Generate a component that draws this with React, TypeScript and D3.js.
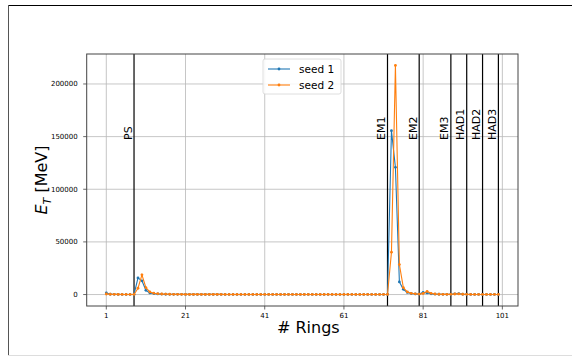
import React from 'react';
import * as d3 from 'd3';

// rings 1..100
const rings: number[] = d3.range(1, 101);

const seed1: number[] = [
  1500, 300, 200, 150, 100, 100, 100, 100, 15800, 13000,
  4000, 1500, 900, 600, 400, 300, 250, 200, 200, 200,
  150, 150, 150, 150, 150, 120, 120, 120, 120, 120,
  100, 100, 100, 100, 100, 100, 100, 100, 100, 100,
  100, 100, 100, 100, 100, 100, 100, 100, 100, 100,
  100, 100, 100, 100, 100, 100, 100, 100, 100, 100,
  100, 100, 100, 100, 100, 100, 100, 100, 100, 100,
  100, 100, 155600, 120800, 12000, 5000, 2000, 1000, 600, 400,
  2000, 1500, 700, 400, 300, 200, 200, 200, 700, 900,
  300, 200, 100, 100, 100, 100, 100, 100, 100, 100,
];

const seed2: number[] = [
  500, 300, 200, 150, 100, 100, 100, 100, 6000, 18700,
  6600, 2500, 1300, 800, 500, 400, 300, 250, 200, 200,
  150, 150, 150, 150, 150, 120, 120, 120, 120, 120,
  100, 100, 100, 100, 100, 100, 100, 100, 100, 100,
  100, 100, 100, 100, 100, 100, 100, 100, 100, 100,
  100, 100, 100, 100, 100, 100, 100, 100, 100, 100,
  100, 100, 100, 100, 100, 100, 100, 100, 100, 100,
  100, 100, 40200, 217600, 28500, 6600, 2500, 1200, 700, 400,
  1000, 3000, 1200, 500, 300, 200, 200, 200, 500, 600,
  300, 200, 100, 100, 100, 100, 100, 100, 100, 100,
];

const seriesNames = ['seed 1', 'seed 2'];
const seriesColors = ['#1f77b4', '#ff7f0e'];

const layerNames = ['PS', 'EM1', 'EM2', 'EM3', 'HAD1', 'HAD2', 'HAD3'];
const layerEnds = [8, 72, 80, 88, 92, 96, 100];

const xTicks = [1, 21, 41, 61, 81, 101];
const yTicks = [0, 50000, 100000, 150000, 200000];

const W = 572;
const H = 356;
const margin = { top: 54, bottom: 50, left: 86.7, right: 54 };
const font = 'DejaVu Sans, sans-serif';

export default function App() {
  const innerW = W - margin.left - margin.right;
  const innerH = H - margin.top - margin.bottom;

  const allVals = seed1.concat(seed2);
  const xMin = d3.min(rings) as number;
  const xMax = d3.max(rings) as number;
  const yMax = d3.max(allVals) as number;
  const xPad = (xMax - xMin) * 0.05;
  const yPad = yMax * 0.05;

  const x = d3.scaleLinear().domain([xMin - xPad, xMax + xPad]).range([0, innerW]);
  const y = d3.scaleLinear().domain([-yPad, yMax + yPad]).range([innerH, 0]);

  const line = d3.line<[number, number]>()
    .x(d => x(d[0]))
    .y(d => y(d[1]));

  const series = [seed1, seed2].map((vals, i) => ({
    name: seriesNames[i],
    color: seriesColors[i],
    points: rings.map((r, j) => [r, vals[j]] as [number, number]),
  }));

  return (
    <div style={{ position: 'absolute', left: 0, top: 0 }}>
      <svg width={W} height={H} style={{ display: 'block', background: '#fff' }}>
        {/* outer frame */}
        <line x1={8} x2={W} y1={5.5} y2={5.5} stroke="#000" strokeWidth={1} />
        <line x1={8.5} x2={8.5} y1={5} y2={H} stroke="#555" strokeWidth={1} />
        <line x1={8} x2={W} y1={355.5} y2={355.5} stroke="#ddd" strokeWidth={1} />

        <g transform={`translate(${margin.left}, ${margin.top})`}>
          {/* grid */}
          {xTicks.map(t => (
            <line key={'gx' + t} x1={x(t)} x2={x(t)} y1={0} y2={innerH} stroke="#b8b8b8" strokeWidth={0.8} />
          ))}
          {yTicks.map(t => (
            <line key={'gy' + t} x1={0} x2={innerW} y1={y(t)} y2={y(t)} stroke="#b8b8b8" strokeWidth={0.8} />
          ))}

          {/* layer boundaries */}
          {layerEnds.map((e, i) => (
            <g key={'l' + i}>
              <line x1={x(e)} x2={x(e)} y1={0} y2={innerH} stroke="#000" strokeWidth={1.2} />
              <text
                transform={`translate(${x(e) - 2.5}, ${140 - margin.top}) rotate(-90)`}
                fontFamily={font}
                fontSize={11}
                fill="#000"
              >
                {layerNames[i]}
              </text>
            </g>
          ))}

          {/* series */}
          {series.map(s => (
            <g key={s.name}>
              <path d={line(s.points) || ''} fill="none" stroke={s.color} strokeWidth={1.1} />
              {s.points.map((p, j) => (
                <circle key={j} cx={x(p[0])} cy={y(p[1])} r={1.4} fill={s.color} />
              ))}
            </g>
          ))}

          {/* spines */}
          <rect x={0} y={0} width={innerW} height={innerH} fill="none" stroke="#444" strokeWidth={1} />

          {/* x axis */}
          {xTicks.map(t => (
            <g key={'xt' + t} transform={`translate(${x(t)}, ${innerH})`}>
              <line y1={0} y2={3.5} stroke="#444" strokeWidth={0.8} />
              <text y={12} textAnchor="middle" fontFamily={font} fontSize={7} fill="#000">{t}</text>
            </g>
          ))}
          {/* y axis */}
          {yTicks.map(t => (
            <g key={'yt' + t} transform={`translate(0, ${y(t)})`}>
              <line x1={0} x2={-3.5} stroke="#444" strokeWidth={0.8} />
              <text x={-9} dy="0.35em" textAnchor="end" fontFamily={font} fontSize={7} fill="#000">{t}</text>
            </g>
          ))}

          {/* legend */}
          <g transform={`translate(${263 - margin.left}, ${59 - margin.top})`}>
            <rect x={0} y={0} width={78} height={35} rx={2} fill="#fff" fillOpacity={0.85} stroke="#d5d5d5" strokeWidth={0.8} />
            {series.map((s, i) => (
              <g key={'lg' + i} transform={`translate(5, ${10 + i * 16})`}>
                <line x1={0} x2={22} y1={0} y2={0} stroke={s.color} strokeWidth={1.1} />
                <circle cx={11} cy={0} r={1.4} fill={s.color} />
                <text x={31} dy="0.35em" fontFamily={font} fontSize={10.5} fill="#000">{s.name}</text>
              </g>
            ))}
          </g>
        </g>

        {/* axis labels */}
        <text
          transform={`translate(47, ${margin.top + innerH / 2}) rotate(-90)`}
          textAnchor="middle"
          fontFamily={font}
          fontSize={16}
          fill="#000"
        >
          <tspan fontStyle="italic">E</tspan>
          <tspan fontStyle="italic" fontSize={11} dy={3.5}>T</tspan>
          <tspan dy={-3.5}> [MeV]</tspan>
        </text>
        <text
          x={margin.left + innerW / 2 + 6}
          y={333}
          textAnchor="middle"
          fontFamily={font}
          fontSize={16}
          fill="#000"
        >
          # Rings
        </text>
      </svg>
    </div>
  );
}
